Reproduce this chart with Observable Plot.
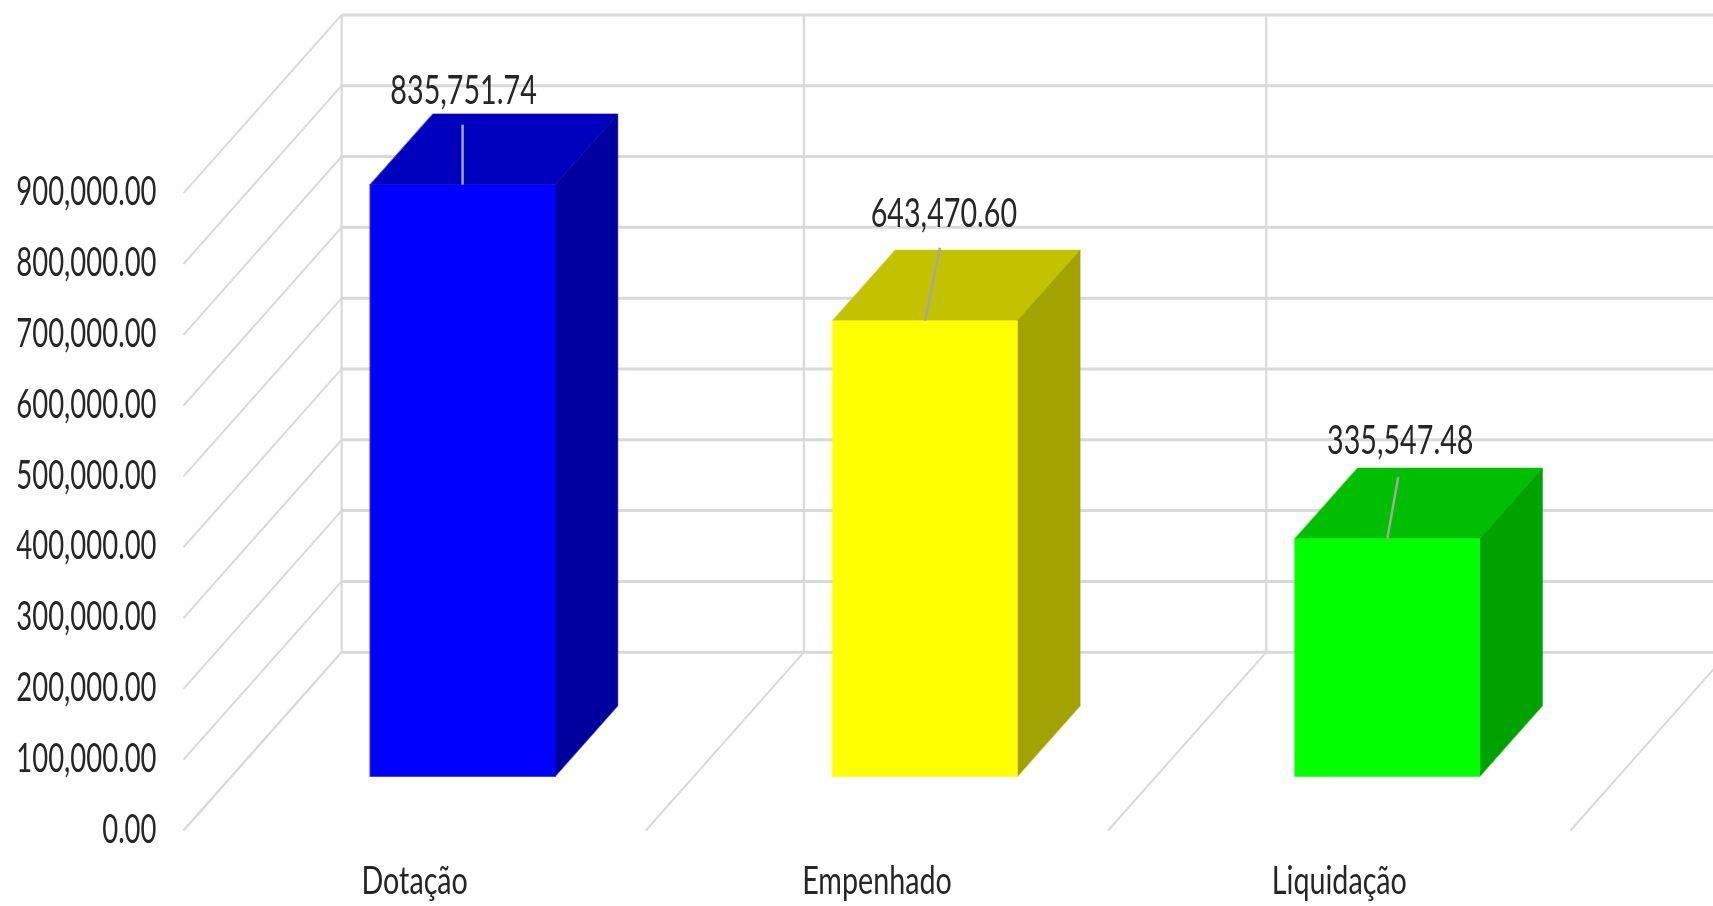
<!DOCTYPE html>
<html>
<head>
<meta charset="utf-8">
<script src="https://cdn.jsdelivr.net/npm/d3@7"></script>
<script src="https://cdn.jsdelivr.net/npm/@observablehq/plot@0.6"></script>
<style>
  html, body { margin: 0; padding: 0; background: #fff; overflow: hidden; }
  svg { display: block; filter: blur(0.45px); }
</style>
</head>
<body>
<div id="chart"></div>
<script>
const categories = ["Dotação", "Empenhado", "Liquidação"];
const values = [835751.74, 643470.60, 335547.48];
const yTicks = [0, 100000, 200000, 300000, 400000, 500000, 600000, 700000, 800000, 900000];
const frontColors = ["#0000ff", "#ffff00", "#00ff00"];
const topColors = ["#0000bf", "#c2c200", "#00bf00"];
const sideColors = ["#00009f", "#a3a300", "#00a200"];

// Oblique projection: one unit of depth shifts a point along x and value.
const depthX = 0.342, depthV = 251800;
const X = (c, d) => c + d * depthX;
const V = (v, d) => v + d * depthV;
// Pixel to data conversion, for the hand-placed label offsets.
const pxX = 3 / 1387, pxV = 900000 / 637.3;

const barStart = 0.3, barEnd = 0.7;
const depthStart = 0.303, depthEnd = 0.7;
const labelPlacement = [
  {dx: 1, dy: -94, tipX: 0, tipY: -60},
  {dx: 19, dy: -107, tipX: 15, tipY: -73},
  {dx: 13, dy: -98, tipX: 11, tipY: -62}
];

const faces = (i) => {
  const c0 = i + barStart, c1 = i + barEnd, v = values[i];
  const pts = (list) => list.map(([c, val, d]) => ({x: X(c, d), y: V(val, d)}));
  return {
    top: pts([[c0, v, depthStart], [c1, v, depthStart], [c1, v, depthEnd], [c0, v, depthEnd]]),
    side: pts([[c1, 0, depthStart], [c1, v, depthStart], [c1, v, depthEnd], [c1, 0, depthEnd]]),
    front: pts([[c0, 0, depthStart], [c1, 0, depthStart], [c1, v, depthStart], [c0, v, depthStart]])
  };
};

const bounds = [0, 1, 2, 3];
const wallH = yTicks.map(v => ({x1: X(0, 1), x2: X(3, 1), y1: V(v, 1), y2: V(v, 1)}));
const wallV = bounds.map(c => ({x1: X(c, 1), x2: X(c, 1), y1: V(0, 1), y2: V(900000, 1)}));
const sideDepth = yTicks.map(v => ({x1: X(0, 0), x2: X(0, 1), y1: V(v, 0), y2: V(v, 1)}));
const floorDepth = bounds.map(c => ({x1: X(c, 0), x2: X(c, 1), y1: V(0, 0), y2: V(0, 1)}));

const link = (data, w) => Plot.link(data, {x1: "x1", y1: "y1", x2: "x2", y2: "y2", stroke: "#d9d9d9", strokeWidth: w});

const barMarks = categories.flatMap((_, i) => {
  const f = faces(i);
  const poly = (data, fill) => Plot.line(data, {x: "x", y: "y", fill, stroke: fill, strokeWidth: 0.5, curve: "linear-closed"});
  const cx = X(i + 0.5, depthStart), vy = V(values[i], depthStart), p = labelPlacement[i];
  return [
    poly(f.top, topColors[i]),
    poly(f.side, sideColors[i]),
    poly(f.front, frontColors[i]),
    Plot.link([{x1: cx, y1: vy, x2: cx + p.tipX * pxX, y2: vy - p.tipY * pxV}],
      {x1: "x1", y1: "y1", x2: "x2", y2: "y2", stroke: "#a6a6a6", strokeWidth: 2.5}),
    Plot.text([{x: cx, y: vy, t: d3.format(",.2f")(values[i])}],
      {x: "x", y: "y", text: "t", dx: p.dx, dy: p.dy, fill: "#262626"})
  ];
});

const chart = Plot.plot({
  width: 1713,
  height: 906,
  marginLeft: 183,
  marginRight: 143,
  marginTop: 192.7,
  marginBottom: 76,
  style: {fontFamily: "Lato", fontSize: "41px", background: "#fff", color: "#262626"},
  x: {type: "linear", domain: [0, 3], label: null},
  y: {domain: [0, 900000], label: null},
  marks: [
    link(wallH, 3),
    link(wallV, 2.25),
    link(sideDepth, 2),
    link(floorDepth, 2),
    ...barMarks,
    Plot.axisY({ticks: yTicks, tickFormat: d3.format(",.2f"), tickSize: 0, tickPadding: 27, label: null, fill: "#262626", dy: -1}),
    Plot.axisX({ticks: [0.5, 1.5, 2.5], tickFormat: d => categories[d - 0.5], tickSize: 0, tickPadding: 37, label: null, fill: "#262626", fontSize: 38})
  ]
});
document.getElementById("chart").append(chart);

// The reference's type is a condensed face: narrow each label to match.
chart.querySelectorAll("text").forEach(t => {
  const narrow = t.closest('[aria-label="y-axis tick label"]') ? 0.67
    : t.closest('[aria-label="x-axis tick label"]') ? 0.755 : 0.7;
  t.setAttribute("textLength", (t.getComputedTextLength() * narrow).toFixed(1));
  t.setAttribute("lengthAdjust", "spacingAndGlyphs");
});
</script>
</body>
</html>
